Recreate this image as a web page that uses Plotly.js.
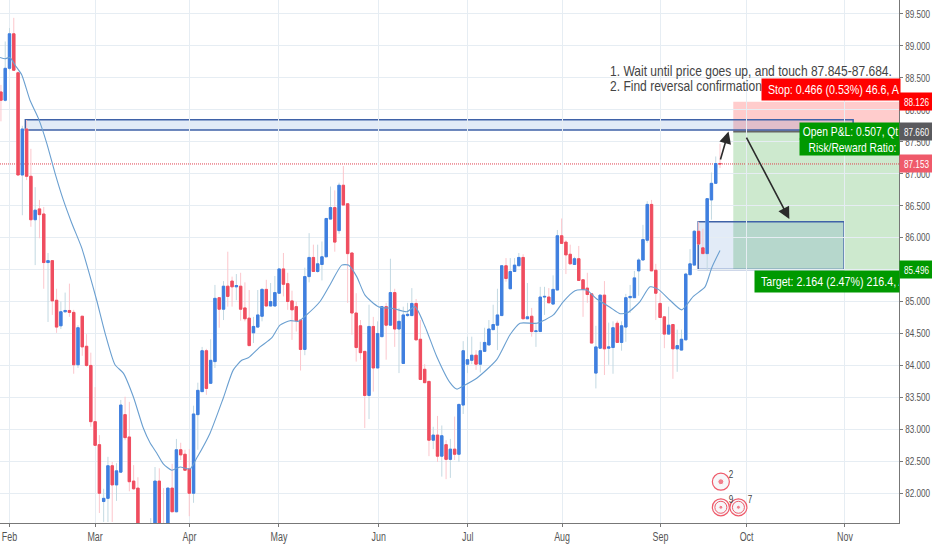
<!DOCTYPE html>
<html><head><meta charset="utf-8">
<script src="https://cdn.plot.ly/plotly-3.0.1.min.js"></script>
<style>html,body{margin:0;padding:0;background:#fff}#c{width:932px;height:550px}</style>
</head><body><div id="c"></div>
<script>
// Daily candles (first candle sits two sessions before the "Feb" tick)
const firstIndex = -2;
const openP = [88.28,88.15,88.65,89.19,88.58,86.98,87.70,86.96,86.28,86.45,86.37,85.61,85.64,85.02,84.62,84.84,84.86,84.83,84.01,84.77,84.30,84.00,83.12,82.76,81.87,81.92,82.43,82.13,82.33,83.23,82.88,82.19,82.08,81.40,81.20,81.25,81.45,82.19,81.45,81.25,82.08,81.71,82.68,82.61,82.38,82.00,83.23,83.59,84.23,83.72,84.06,85.06,84.88,85.24,85.32,85.23,85.24,84.90,84.74,84.51,84.60,84.77,85.19,84.93,84.93,85.13,85.51,85.28,85.01,84.92,84.71,84.25,85.39,85.69,85.47,85.58,85.70,86.29,86.47,86.11,86.82,86.53,85.76,84.82,84.62,84.22,83.53,84.61,83.96,84.45,84.92,84.63,85.14,84.57,84.03,84.78,84.78,84.97,84.41,83.94,83.75,82.83,82.91,82.58,82.76,82.53,82.69,82.61,83.38,84.02,84.08,84.16,84.02,84.22,84.32,84.56,84.63,84.78,85.56,85.20,85.47,85.56,85.69,84.73,84.77,84.53,84.53,85.07,85.07,84.96,85.18,86.03,85.93,85.74,85.58,85.67,85.34,85.21,85.12,83.88,84.27,85.10,84.27,84.28,84.66,84.36,84.60,85.06,85.06,85.48,85.65,85.96,86.52,85.49,84.97,84.76,84.49,84.64,84.26,84.24,84.40,85.42,85.57,86.10,85.84,85.75,86.59,86.85,87.16];
const highP = [88.39,89.07,89.28,89.44,88.60,87.75,87.84,87.39,86.79,86.59,86.48,85.76,85.65,85.20,85.00,85.14,85.28,84.87,84.63,84.77,84.49,84.20,83.66,82.91,82.07,82.57,82.49,82.47,83.46,83.51,83.43,82.44,82.25,81.45,81.45,81.61,82.41,82.39,82.08,82.09,82.46,82.85,82.79,82.68,82.69,83.37,83.73,84.29,84.26,84.41,85.26,85.06,85.32,85.78,85.39,85.43,85.45,85.30,85.18,84.76,85.18,85.21,85.34,85.29,85.40,85.52,85.76,85.45,85.17,85.00,84.71,85.53,86.07,85.89,85.89,85.94,86.31,86.80,86.74,86.86,87.12,86.53,85.76,85.13,84.71,84.22,84.95,84.76,84.69,84.92,84.98,85.67,85.20,84.90,84.92,84.98,85.21,85.04,84.71,84.02,83.75,83.04,83.21,83.06,82.83,82.85,83.20,83.40,84.38,84.45,84.45,84.24,84.37,84.59,84.71,84.95,85.20,85.56,85.68,85.68,85.68,85.76,85.74,85.29,84.90,84.67,85.23,85.23,85.21,85.41,86.12,86.30,85.96,85.89,85.70,85.87,85.34,85.45,85.12,84.62,85.10,85.32,84.67,84.69,84.70,84.69,85.12,85.26,85.48,85.68,86.20,86.57,86.59,85.59,85.13,84.76,84.92,84.65,84.56,84.56,85.45,85.82,86.12,86.25,86.14,86.61,87.02,87.27,87.47];
const lowP = [87.82,88.13,88.62,88.62,86.98,86.35,86.90,86.17,85.57,85.99,85.20,84.68,84.79,84.51,84.57,84.82,84.76,83.87,83.96,84.15,83.98,83.04,82.75,81.69,81.55,81.55,81.55,81.88,82.32,82.83,82.03,82.05,81.30,81.10,81.10,81.15,81.30,81.30,81.15,81.20,81.71,81.70,82.52,82.36,81.64,81.85,82.68,83.59,83.54,83.72,83.96,84.59,84.71,84.92,84.92,85.02,84.70,84.69,84.31,84.35,84.59,84.69,84.93,84.93,84.93,85.12,85.08,84.87,84.40,84.53,83.92,84.16,85.30,85.47,85.45,85.33,85.70,86.29,85.78,86.06,86.51,84.98,84.48,84.06,84.09,83.02,83.16,83.59,83.96,84.45,84.09,84.63,84.29,83.88,84.03,84.76,84.78,84.40,83.77,83.73,82.58,82.69,82.49,82.26,82.22,82.24,82.52,82.49,83.24,83.88,84.02,83.93,83.89,84.22,84.32,84.56,84.24,84.78,85.31,85.20,85.47,85.56,84.73,84.73,84.45,84.29,84.53,84.79,84.98,84.96,85.18,85.91,85.43,85.59,85.58,85.33,84.76,84.98,84.35,83.64,84.27,83.85,84.01,83.87,84.36,84.23,84.37,84.82,85.06,85.09,85.65,85.92,85.48,84.71,84.74,84.27,84.49,83.79,83.90,84.24,84.40,85.42,85.57,85.90,85.75,85.49,86.28,86.85,87.09];
const closeP = [88.15,88.65,89.19,88.62,86.98,87.70,86.96,86.28,86.43,86.36,85.61,85.64,85.01,84.60,84.84,84.86,84.83,84.01,84.59,84.29,84.00,83.12,82.75,82.00,81.92,82.43,82.13,82.35,83.38,82.87,82.18,82.07,81.40,81.20,81.40,81.45,82.19,81.45,81.25,82.08,81.71,82.68,82.60,82.36,82.00,83.24,83.61,84.23,83.64,84.08,85.05,84.88,85.24,85.08,85.23,85.25,84.88,84.73,84.31,84.61,84.79,85.19,84.93,85.00,85.14,85.51,85.27,85.00,84.87,84.70,84.25,85.39,85.69,85.47,85.59,85.70,86.30,86.47,85.93,86.82,86.51,85.75,84.82,84.28,84.20,83.53,84.61,83.96,84.50,84.92,84.63,85.14,84.57,84.69,84.79,84.80,84.97,84.40,83.78,83.73,82.83,82.91,82.58,82.90,82.53,82.69,82.61,83.39,84.23,84.09,84.16,84.02,84.23,84.36,84.57,84.64,84.79,85.56,85.36,85.47,85.57,85.69,84.73,84.76,84.53,84.54,85.07,85.08,84.98,85.19,86.03,85.91,85.73,85.59,85.67,85.33,85.19,85.11,84.35,84.29,85.10,84.26,84.29,84.59,84.36,84.62,85.06,85.08,85.37,85.65,85.97,86.52,85.48,85.13,84.75,84.49,84.63,84.26,84.31,84.41,85.43,85.59,86.10,85.90,85.75,86.61,86.85,87.16,87.153];

// Moving average
const maIndex = [-2.22,-1.05,0.12,1.29,2.85,4.79,6.73,8.69,10.63,12.57,14.53,16.87,18.41,20.37,22.31,24.65,26.59,28.93,31.26,32.83,34.39,35.93,37.9,39.84,42.17,43.74,46.85,49.95,52.29,54.25,55.79,58.53,61.26,63.2,65.54,67.48,69.04,72.55,75.28,77.62,79.18,81.12,83.06,86.17,89.67,92.8,94.74,97.08,99.81,102.92,104.49,106.03,109.16,113.83,116.94,119.28,123.18,127.06,129.39,132.13,134.86,137.2,140.3,142.64,144.5,147.31,149.65,151.59,154.32,157.06,159.77,162.5,164.07,166.0];
const maValue = [88.82,88.80,88.82,88.70,88.55,88.15,87.87,87.48,87.01,86.59,86.23,85.84,85.49,85.02,84.51,84.01,83.88,83.51,83.02,82.79,82.63,82.46,82.36,82.41,82.38,82.55,82.94,83.49,83.93,84.08,84.12,84.29,84.43,84.63,84.70,84.69,84.77,85.00,85.31,85.57,85.57,85.39,85.10,84.92,84.89,84.84,84.92,84.61,84.14,83.73,83.63,83.68,83.80,84.09,84.48,84.66,84.66,84.79,85.00,85.17,85.18,85.04,84.91,84.81,84.83,85.00,85.23,85.19,85.02,84.87,85.08,85.23,85.53,85.80];

// Axis labels
const monthTicks = [0.0,20.0,42.06,62.96,86.26,107.05,129.1,152.1,172.2,195.2];
const monthLabels = ['Feb','Mar','Apr','May','Jun','Jul','Aug','Sep','Oct','Nov'];
const priceTicks = [82,82.5,83,83.5,84,84.5,85,85.5,86,86.5,87,87.5,88,88.5,89,89.5];

// Drawn levels
const lastPrice = 87.153;
const zoneTop = 87.845, zoneBottom = 87.684;
const stopLevel = 88.126, entryLevel = 87.660, targetLevel = 85.496;
const boxTop = 86.25, boxBottom = 85.50;

// Event badges
const eventIndex = [166.2,166.2,170.3];
const eventPrice = [82.18,81.78,81.78];
const eventCount = ['2','9','7'];

const X0 = -2.22, X1 = 207.82;
const idx = openP.map((_, i) => i + firstIndex);
const FONT = '"Liberation Sans",Arial,sans-serif';
const RED = '#ef4d5f', BLUE = '#3f7fe0', GREEN = '#009900';

const wicks = {
  type:'candlestick', x:idx, open:openP, high:highP, low:lowP, close:closeP, hoverinfo:'skip',
  increasing:{line:{color:'#c3d9e2',width:1},fillcolor:BLUE},
  decreasing:{line:{color:'#fcc6cc',width:1},fillcolor:RED}
};
const bodies = {
  type:'candlestick', x:idx, open:openP, close:closeP, hoverinfo:'skip',
  high:openP.map((o,i)=>Math.max(o,closeP[i])),
  low:openP.map((o,i)=>Math.min(o,closeP[i])),
  increasing:{line:{color:BLUE,width:1},fillcolor:BLUE},
  decreasing:{line:{color:RED,width:1},fillcolor:RED}
};
const ma = {type:'scatter',mode:'lines',x:maIndex,y:maValue,hoverinfo:'skip',
  line:{color:'#6a9fd0',width:1.1,shape:'spline',smoothing:0.6}};
const badgeOuter = {type:'scatter',mode:'markers',x:eventIndex,y:eventPrice,hoverinfo:'skip',
  marker:{size:17,color:'#f7f7f9',line:{color:'#ef5a6a',width:1.2}}};
const badgeMid = {type:'scatter',mode:'markers',x:eventIndex.slice(1),y:eventPrice.slice(1),hoverinfo:'skip',
  marker:{size:12,color:'rgba(0,0,0,0)',line:{color:'#ef5a6a',width:1}}};
const badgeDot = {type:'scatter',mode:'markers',x:eventIndex,y:eventPrice,hoverinfo:'skip',
  marker:{size:[6,4,4],color:'#ef4d5f'}};

function rect(x0,x1,y0,y1,fill,line){
  return {type:'rect',layer:'below',xref:'x',yref:'y',x0,x1,y0,y1,fillcolor:fill,line:line||{width:0}};
}
const shapes = [
  rect(169.1,X1,entryLevel,stopLevel,'rgba(255,0,0,0.2)'),
  rect(169.1,X1,targetLevel,entryLevel,'rgba(76,175,80,0.28)'),
  {type:'line',layer:'below',xref:'x',yref:'y',x0:169.1,x1:X1,y0:entryLevel,y1:entryLevel,line:{color:'#666',width:2}},
  rect(3.7,197.1,zoneBottom,zoneTop,'rgba(33,100,190,0.13)',{color:'#3f62a8',width:1.5}),
  rect(160.9,195.0,boxBottom,boxTop,'rgba(33,100,190,0.13)',{color:'#3f62a8',width:1.5}),
  {type:'line',layer:'below',xref:'x',yref:'y',x0:X0,x1:X1,y0:lastPrice,y1:lastPrice,line:{color:'#e0414f',width:1,dash:'1px,1px'}}
];

function tag(y,text,bg){
  return {xref:'paper',yref:'y',x:1,y,xanchor:'left',yanchor:'middle',showarrow:false,text,
    width:33,height:17,bgcolor:bg,borderpad:0,font:{family:FONT,size:11,color:'#fff'}};
}
function label(px0,yVal,w,h,text,bg,size){
  return {xref:'paper',yref:'y',x:px0/899,y:yVal,xanchor:'left',yanchor:'middle',showarrow:false,text,align:'left',
    width:w,height:h,bgcolor:bg,borderpad:0,font:{family:FONT,size:size,color:'#fff'}};
}
function note(yVal,text){
  return {xref:'paper',yref:'y',x:608/899,y:yVal,xanchor:'left',yanchor:'middle',showarrow:false,align:'left',text,
    font:{family:FONT,size:14.5,color:'#444'}};
}
function arrow(x0,y0,x1,y1){
  return {xref:'x',yref:'y',axref:'x',ayref:'y',x:x1,y:y1,ax:x0,ay:y0,text:'',showarrow:true,
    arrowcolor:'#2b2b2b',arrowwidth:1.6,arrowhead:2,arrowsize:1.5,standoff:0,startstandoff:0};
}
const sp = n => '\u00a0'.repeat(n);
const annotations = [
  note(88.61,'1. Wait until price goes up, and touch 87.845-87.684.'),
  note(88.38,'2. Find reversal confirmation'),
  label(760.7,88.32,137.5,21,sp(2)+'Stop: 0.466 (0.53%) 46.6, A','#f00',13.5),
  label(799.3,87.673,99,16.2,sp(1)+'Open P&amp;L: 0.507, Qt',GREEN,13),
  label(799.3,87.42,99,16.2,sp(3)+'Risk/Reward Ratio:',GREEN,13),
  label(754.3,85.31,144,21,sp(2)+'Target: 2.164 (2.47%) 216.4, A',GREEN,13.5),
  tag(stopLevel,'88.126','#f00'),
  tag(entryLevel,'87.660','#5a5a5e'),
  tag(lastPrice,'87.153','#ef5a6a'),
  tag(targetLevel,'85.496',GREEN),
  arrow(166.0,87.20,168.0,87.66),
  arrow(172.0,87.59,182.2,86.29)
].concat(eventCount.map((t,i)=>({xref:'x',yref:'y',x:eventIndex[i],y:eventPrice[i],xshift:[5,5,7][i],yshift:[8,8,8][i],
  xanchor:'left',yanchor:'middle',showarrow:false,text:t,font:{family:FONT,size:11,color:'#444'}})));

const layout = {
  width:932,height:550,margin:{l:0,r:33,t:0,b:27,pad:0},
  paper_bgcolor:'#fff',plot_bgcolor:'#fff',showlegend:false,dragmode:false,boxgap:0.2,
  font:{family:FONT,size:11,color:'#555'},
  xaxis:{type:'linear',range:[X0,X1],tickmode:'array',tickvals:monthTicks,ticktext:monthLabels,
    showgrid:true,gridcolor:'#e6edf3',gridwidth:1,zeroline:false,rangeslider:{visible:false},
    showline:true,linecolor:'#777',linewidth:1,ticks:'outside',ticklen:3,tickcolor:'#777',
    ticklabeloverflow:'allow',tickfont:{family:FONT,size:12,color:'#555'}},
  yaxis:{side:'right',range:[81.534,89.719],tickmode:'array',tickvals:priceTicks,ticktext:priceTicks.map(v=>v.toFixed(3)),
    showgrid:true,gridcolor:'#e6edf3',gridwidth:1,zeroline:false,
    showline:true,linecolor:'#777',linewidth:1,ticks:'outside',ticklen:3,tickcolor:'#777',
    ticklabeloverflow:'allow',tickfont:{family:FONT,size:11,color:'#555'}},
  shapes,annotations
};
// The reference's lettering is condensed: narrow each text to that width, by size
const condenseBySize = size => size === 14.5 ? 0.83 : size >= 13 ? 0.79 : 0.74;
Plotly.newPlot('c',[wicks,bodies,ma,badgeOuter,badgeMid,badgeDot],layout,{displayModeBar:false,staticPlot:true}).then(gd=>{
  gd.querySelectorAll('svg text').forEach(t=>{
    if(!t.textContent) return;
    const n=t.getComputedTextLength();
    const fs=parseFloat(getComputedStyle(t).fontSize);
    if(n>0){t.setAttribute('textLength',(n*condenseBySize(fs)).toFixed(2));t.setAttribute('lengthAdjust','spacingAndGlyphs');}
  });
});
</script></body></html>
